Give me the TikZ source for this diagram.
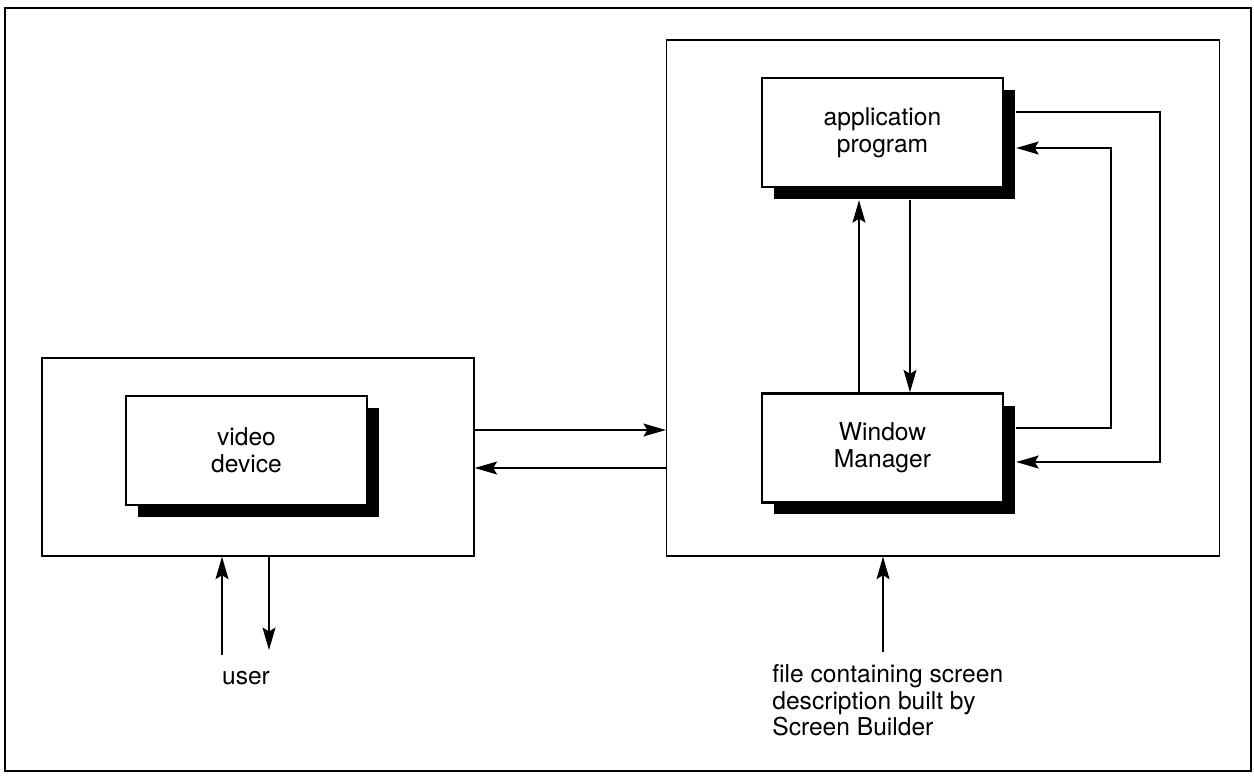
\documentclass[tikz,border=0pt]{standalone}
\usepackage{fontspec}
\setmainfont{TeX Gyre Heros}
\usetikzlibrary{arrows.meta,shadows}
\begin{document}
\begin{tikzpicture}[x=0.02cm,y=-0.02cm,
	font=\fontsize{14}{15.2}\selectfont,
	block/.style={draw,line width=1.4pt,fill=white,minimum width=4.82cm,minimum height=2.18cm,
		align=center,inner sep=0pt,
		drop shadow={shadow xshift=0.24cm,shadow yshift=-0.24cm,fill=black,opacity=1}},
	frame/.style={draw,line width=0.8pt,inner sep=0pt},
	conn/.style={line width=0.7pt,-{Stealth[length=4.5mm,width=2.6mm,inset=0.8mm]}}]
	\useasboundingbox (0,0) rectangle (1254,775);
	%outer frame
	\draw[line width=1.6pt] (5,8) rectangle (1251,771);
	%containers
	\node[frame,minimum width=8.64cm,minimum height=3.96cm] (left) at (258,457) {};
	\node[frame,minimum width=11.06cm,minimum height=10.32cm] (right) at (943,298) {};
	%blocks
	\node[block] (video) at (246.5,450.5) {video\\device};
	\node[block] (app) at (882.5,132.5) {application\\program};
	\node[block] (wm) at (882.5,448) {Window\\Manager};
	%shadow edges
	\coordinate (appbot) at ([yshift=-0.24cm]app.south);
	\coordinate (appright) at ([xshift=0.24cm]app.east);
	\coordinate (wmright) at ([xshift=0.24cm]wm.east);
	%app <-> wm
	\coordinate (up) at (859,0);
	\coordinate (down) at (910,0);
	\draw[conn] (wm.north -| up) -- (appbot -| up);
	\draw[conn] (appbot -| down) -- (wm.north -| down);
	\coordinate (outer) at (1160,0);
	\coordinate (inner) at (1111,0);
	\draw[conn] (appright |- 0,112) -- (outer |- 0,112) |- (wmright |- 0,462);
	\draw[conn] (wmright |- 0,428) -- (inner |- 0,428) |- (appright |- 0,148);
	%between containers
	\draw[conn] (left.east |- 0,430) -- (right.west |- 0,430);
	\draw[conn] (right.west |- 0,468) -- (left.east |- 0,468);
	%user
	\node (user) at (246,684) [anchor=base] {user};
	\coordinate (userin) at (222,655);
	\coordinate (userout) at (269,650);
	\draw[conn] (userin) -- (left.south -| userin);
	\draw[conn] (left.south -| userout) -- (userout);
	%screen file
	\node (file) at (772,664) [anchor=north west,align=left,inner sep=0pt] {file containing screen\\description built by\\Screen Builder};
	\coordinate (filein) at (883,652);
	\draw[conn] (filein) -- (right.south -| filein);
\end{tikzpicture}
\end{document}
